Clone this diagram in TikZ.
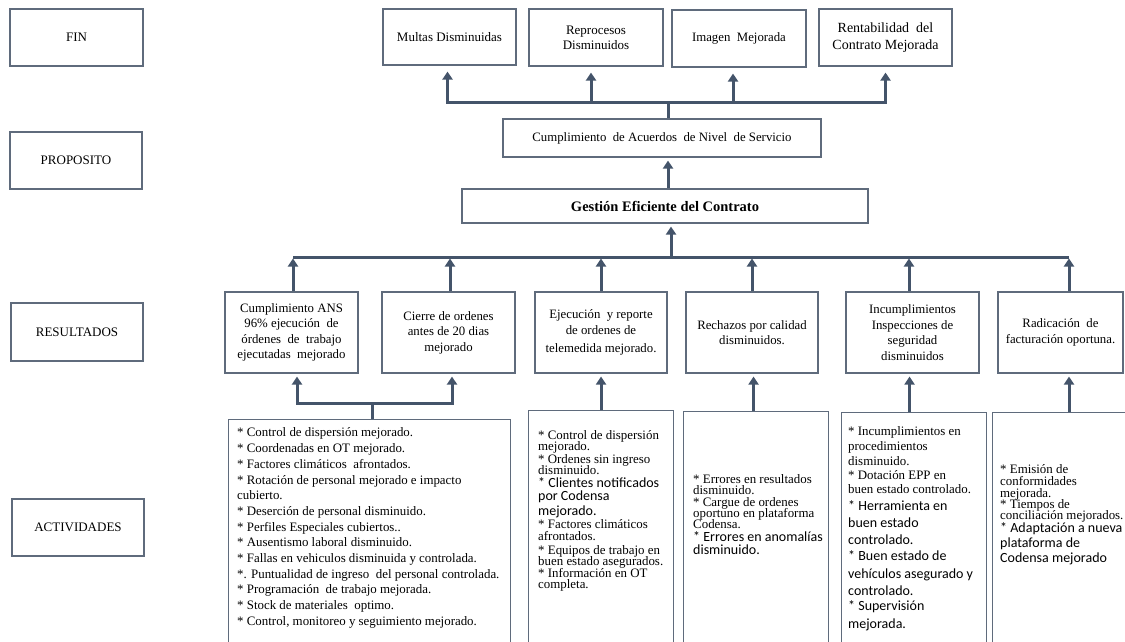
\documentclass[tikz,border=0pt]{standalone}
\usepackage{fontspec}
\setmainfont{Liberation Serif}
\newfontfamily\calib{Carlito}
\usetikzlibrary{arrows.meta,calc}
\definecolor{boxc}{HTML}{5F6B7C}
\definecolor{arrc}{HTML}{44546A}
% a line set in the sans face used by some of the activity notes
\newcommand\calline[1]{{\calib\fontsize{14}{14}\selectfont #1}}
\begin{document}
\begin{tikzpicture}[x=1pt,y=-1pt,
  box/.style={draw=boxc, line width=1.1pt, fill=white, inner sep=1pt, align=center,
              font=\fontsize{13}{15}\selectfont},
  lvl/.style={box, minimum width=133pt, minimum height=57pt},
  rbox/.style={box, minimum width=133pt, minimum height=81pt,
               font=\fontsize{12.8}{15.5}\selectfont},
  actbox/.style={draw=boxc, line width=1.1pt, fill=white, anchor=north west, inner sep=0pt},
  acttext/.style={anchor=north west, align=left, inner sep=0pt},
  link/.style={draw=arrc, line width=3pt},
  arr/.style={link, -{Triangle[length=8pt,width=10pt]}},
]
\useasboundingbox (0,0) rectangle (1125,641);
\clip (0,0) rectangle (1125,641);

% level labels on the left
\node[lvl] (fin)  at (76.5,37.5) {FIN};
\node[lvl, minimum width=132pt] (prop) at (76,160.5) {PROPOSITO};
\node[lvl, minimum width=132pt, minimum height=58pt] (res) at (77,332) {RESULTADOS};
\node[lvl, minimum width=132pt] (act) at (78,527.5) {ACTIVIDADES};

% ends
\node[lvl, minimum height=56pt] (multas) at (449.5,37) {Multas Disminuidas};
\node[lvl, minimum width=134pt] (repro) at (596,37.5) {Reprocesos\\Disminuidos};
\node[lvl, minimum width=134pt, font=\fontsize{12.8}{15}\selectfont] (imagen) at (739,38.5) {Imagen\ \ Mejorada};
\node[lvl, font=\fontsize{14}{16.7}\selectfont] (rent) at (885.5,37.5) {Rentabilidad\ \ del\\Contrato Mejorada};

% purpose and component
\node[box, minimum width=318pt, minimum height=38pt, font=\fontsize{12.8}{15}\selectfont] (cump) at (662,138)
  {Cumplimiento\ \ de Acuerdos\ \ de Nivel\ \ de Servicio};
\node[box, minimum width=406pt, minimum height=34pt, font=\fontsize{14.5}{16}\bfseries] (gest) at (665,206)
  {Gestión Eficiente del Contrato};

% results
\node[rbox] (r1) at (291.5,332.5) {Cumplimiento ANS\\96\% ejecución\ \ de\\órdenes\ \ de\ \ trabajo\\ejecutadas\ \ mejorado};
\node[rbox] (r2) at (448.5,332.5) {Cierre de ordenes\\antes de 20 dias\\mejorado};
\node[rbox, minimum width=132pt] (r3) at (601,332.5) {Ejecución\ \ y reporte\\de ordenes de\\[3pt]telemedida mejorado.};
\node[rbox, minimum width=132pt] (r4) at (752,332.5) {Rechazos por calidad\\disminuidos.};
\node[rbox] (r5) at (912.5,332.5) {Incumplimientos\\Inspecciones de\\seguridad\\disminuidos};
\node[rbox, minimum width=125pt] (r6) at (1060.5,332.5) {Radicación\ \ de\\facturación oportuna.};

% activity boxes (they run past the lower edge)
\node[actbox, minimum width=282pt, minimum height=250pt] (a1) at (228,419) {};
\node[actbox, minimum width=145pt, minimum height=260pt] (a2) at (528,410) {};
\node[actbox, minimum width=145pt, minimum height=260pt] (a3) at (683,411) {};
\node[actbox, minimum width=145pt, minimum height=260pt] (a4) at (841,412) {};
\node[actbox, minimum width=150pt, minimum height=260pt] (a5) at (992,412) {};

\node[acttext, font={\fontsize{12.9}{15.7}\selectfont\lineskiplimit=-50pt\relax}] (a1t) at (237,426.7)
 {\rule{0pt}{10pt}* Control de dispersión mejorado.
 \\{}* Coordenadas en OT mejorado.
 \\{}* Factores climáticos\ \ afrontados.
 \\{}* Rotación de personal mejorado e impacto
 \\{}cubierto.
 \\{}* Deserción de personal disminuido.
 \\{}* Perfiles Especiales cubiertos..
 \\{}* Ausentismo laboral disminuido.
 \\{}* Fallas en vehiculos disminuida y controlada.
 \\{}*. Puntualidad de ingreso\ \ del personal controlada.
 \\{}* Programación\ \ de trabajo mejorada.
 \\{}* Stock de materiales\ \ optimo.
 \\{}* Control, monitoreo y seguimiento mejorado.};

\node[acttext, font={\fontsize{12.9}{11.3}\selectfont\lineskiplimit=-50pt\relax}] (a2t) at (538,429)
 {\rule{0pt}{10pt}* Control de dispersión
 \\{}mejorado.
 \\[1.7pt]{}* Ordenes sin ingreso
 \\{}disminuido.
 \\[1.7pt]\calline{* Clientes notificados}
 \\[1.7pt]\calline{por Codensa}
 \\[3.7pt]\calline{mejorado.}
 \\[1.7pt]{}* Factores climáticos
 \\{}afrontados.
 \\[2.7pt]{}* Equipos de trabajo en
 \\{}buen estado asegurados.
 \\[0.7pt]{}* Información en OT
 \\{}completa.};

\node[acttext, font={\fontsize{12.9}{11.2}\selectfont\lineskiplimit=-50pt\relax}] (a3t) at (693,473.5)
 {\rule{0pt}{10pt}* Errores en resultados
 \\{}disminuido.
 \\{}* Cargue de ordenes
 \\{}oportuno en plataforma
 \\{}Codensa.
 \\[1.8pt]\calline{* Errores en anomalías}
 \\[1.8pt]\calline{disminuido.}};

\node[acttext, font={\fontsize{12.9}{14.6}\selectfont\lineskiplimit=-50pt\relax}] (a4t) at (848,425.5)
 {\rule{0pt}{10pt}* Incumplimientos en
 \\[0.4pt]{}procedimientos
 \\[0.4pt]{}disminuido.
 \\[-0.6pt]{}* Dotación EPP en
 \\[-0.6pt]{}buen estado controlado.
 \\[2.4pt]\calline{* Herramienta en}
 \\[2.4pt]\calline{buen estado}
 \\[2.4pt]\calline{controlado.}
 \\[1.4pt]\calline{* Buen estado de}
 \\[3.4pt]\calline{vehículos asegurado y}
 \\[2.4pt]\calline{controlado.}
 \\[0.4pt]\calline{* Supervisión}
 \\[3.4pt]\calline{mejorada.}};

\node[acttext, font={\fontsize{12.9}{11.3}\selectfont\lineskiplimit=-50pt\relax}] (a5t) at (1000,463.5)
 {\rule{0pt}{10pt}* Emisión de
 \\[0.7pt]{}conformidades
 \\{}mejorada.
 \\{}* Tiempos de
 \\{}conciliación mejorados.
 \\[1.7pt]\calline{* Adaptación a nueva}
 \\[3.7pt]\calline{plataforma de}
 \\[3.7pt]\calline{Codensa mejorado}};

% junctions of the connector buses
\coordinate (tb) at (668,102);
\coordinate (rb) at (671,257);
\coordinate (lb) at (372,403);
\coordinate (k1) at (297,403);
\coordinate (k2) at (452,403);
\coordinate (c6) at (1069,0);

% purpose -> ends
\draw[link] (tb |- cump.north) -- (tb);
\draw[arr] (tb) -| ($(multas.south)+(-2pt,-6pt)$);
\draw[arr] (tb) -| ($(rent.south)+(0,-6pt)$);
\draw[arr] ($(repro.south |- tb)+(-5pt,0)$) -- ($(repro.south)+(-5pt,-6pt)$);
\draw[arr] ($(imagen.south |- tb)+(-6pt,0)$) -- ($(imagen.south)+(-6pt,-6pt)$);

% component -> purpose
\draw[arr] (tb |- gest.north) -- ($(tb |- cump.south)+(0,-3pt)$);

% results -> component
\draw[arr] (rb) -- ($(rb |- gest.south)+(0,-3pt)$);
\draw[link] ($(r1.north |- rb)+(1.5pt,0)$) -- (c6 |- rb);
\draw[arr] ($(r1.north)+(1.5pt,0)$) -- ($(r1.north |- rb)+(1.5pt,-1.5pt)$);
\draw[arr] ($(r2.north)+(1.5pt,0)$) -- ($(r2.north |- rb)+(1.5pt,-1.5pt)$);
\draw[arr] (r3.north) -- ($(r3.north |- rb)+(0,-1.5pt)$);
\draw[arr] (r4.north) -- ($(r4.north |- rb)+(0,-1.5pt)$);
\draw[arr] ($(r5.north)+(-3.5pt,0)$) -- ($(r5.north |- rb)+(-3.5pt,-1.5pt)$);
\draw[arr] (c6 |- r6.north) -- ($(c6 |- rb)+(0,-1.5pt)$);

% activities -> results
\draw[link] (lb |- a1.north) -- (lb);
\draw[arr] (lb) -| ($(k1 |- r1.south)+(0,-3pt)$);
\draw[arr] (lb) -| ($(k2 |- r2.south)+(0,-3pt)$);
\draw[arr] (a2.north) -- ($(a2.north |- r3.south)+(0,-3pt)$);
\draw[arr] ($(a3.north)+(-2.5pt,0)$) -- ($(a3.north |- r4.south)+(-2.5pt,-3pt)$);
\draw[arr] ($(a4.north)+(-4.5pt,0)$) -- ($(a4.north |- r5.south)+(-4.5pt,-3pt)$);
\draw[arr] (c6 |- a5.north) -- ($(c6 |- r6.south)+(0,-3pt)$);
\end{tikzpicture}
\end{document}
